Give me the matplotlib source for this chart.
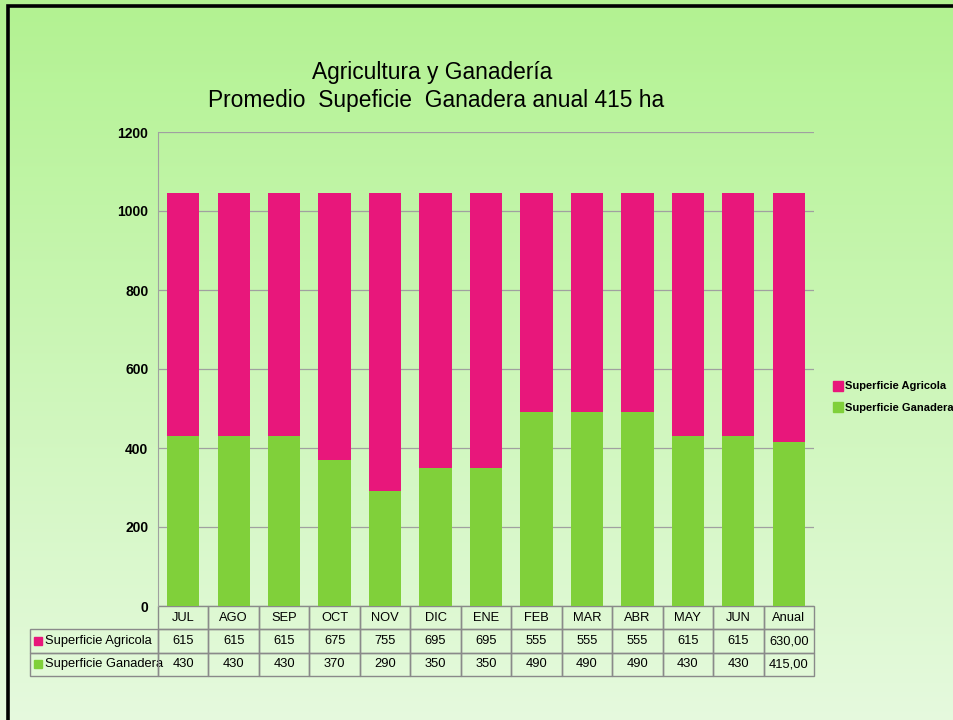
import numpy as np
import matplotlib
matplotlib.use("Agg")
import matplotlib.pyplot as plt
from matplotlib.patches import Rectangle
from matplotlib.lines import Line2D

months = ["JUL", "AGO", "SEP", "OCT", "NOV", "DIC", "ENE", "FEB", "MAR", "ABR",
          "MAY", "JUN", "Anual"]
agricola = [615, 615, 615, 675, 755, 695, 695, 555, 555, 555, 615, 615, 630]
ganadera = [430, 430, 430, 370, 290, 350, 350, 490, 490, 490, 430, 430, 415]
agricola_txt = ["615", "615", "615", "675", "755", "695", "695", "555", "555",
                "555", "615", "615", "630,00"]
ganadera_txt = ["430", "430", "430", "370", "290", "350", "350", "490", "490",
                "490", "430", "430", "415,00"]
yticks = [0, 200, 400, 600, 800, 1000, 1200]

PINK, GREEN, GRID = "#E8177B", "#80D03A", "#A0A0A0"
FONT = ["Liberation Sans", "DejaVu Sans"]
plt.rcParams["font.family"] = FONT

W, H = 954, 720
fig = plt.figure(figsize=(W / 100, H / 100), dpi=100)

# background gradient + frame
bg = fig.add_axes([0, 0, 1, 1], zorder=-10)
top = np.array([0.70, 0.95, 0.57])
bot = np.array([0.90, 0.98, 0.87])
t = np.linspace(0, 1, 256)[:, None]
grad = (top * (1 - t) + bot * t)[:, None, :]
bg.imshow(grad, aspect="auto", extent=[0, 1, 0, 1])
bg.add_patch(Rectangle((8.5 / W, -0.1), 1.2, 1 - 6 / H + 0.1, fill=False,
                       edgecolor="black", lw=2.6, transform=bg.transAxes))
bg.set_xlim(0, 1)
bg.set_ylim(0, 1)
bg.axis("off")

ax = fig.add_axes([158 / W, (H - 606) / H, 656 / W, 474 / H])
ax.patch.set_alpha(0)
x = np.arange(len(months))
ax.bar(x, ganadera, width=0.64, color=GREEN, zorder=3, label="Superficie Ganadera")
ax.bar(x, agricola, width=0.64, bottom=ganadera, color=PINK, zorder=3,
       label="Superficie Agricola")
ax.set_xlim(-0.5, len(months) - 0.5)
ax.set_ylim(0, 1200)
ax.set_yticks(yticks)
ax.set_yticklabels([str(v) for v in yticks], fontsize=10, fontweight="bold")
ax.set_xticks([])
ax.tick_params(axis="y", length=0, pad=7)
ax.grid(axis="y", color=GRID, lw=0.9, zorder=0)
for s in ["top", "right", "bottom"]:
    ax.spines[s].set_visible(False)
ax.spines["left"].set_color(GRID)

# data table under the plot (first column holds the row labels)
rl_w = 128 / 656
rows = [["Superficie Agricola"] + agricola_txt,
        ["Superficie Ganadera"] + ganadera_txt]
tb = ax.table(cellText=rows, colLabels=[""] + months,
              colWidths=[rl_w] + [1 / 13] * 13, cellLoc="center",
              bbox=[-rl_w, -70 / 474, 1 + rl_w, 70 / 474])
tb.auto_set_font_size(False)
tb.set_fontsize(9.3)
for (r, c), cell in tb.get_celld().items():
    cell.set_edgecolor("#8A8A8A")
    cell.set_linewidth(1)
    cell.set_facecolor("none")
    cell.get_text().set_fontfamily(FONT)
    if c == 0:
        cell.get_text().set_ha("left")
        cell.PAD = 0.115
        if r == 0:
            cell.visible_edges = ""

# colored squares next to the row labels
for i, col in enumerate([PINK, GREEN]):
    yc = -(23.3 * (i + 1.5)) / 474
    ax.add_patch(Rectangle((-124 / 656, yc - 4 / 474), 8 / 656, 8 / 474,
                           color=col, transform=ax.transAxes, clip_on=False))

# legend on the right
handles = [Line2D([], [], marker="s", ls="", markersize=6.5, color=PINK),
           Line2D([], [], marker="s", ls="", markersize=6.5, color=GREEN)]
fig.legend(handles, ["Superficie Agricola", "Superficie Ganadera"],
           loc="center left", bbox_to_anchor=(831 / W, 1 - 397 / H),
           frameon=False, handletextpad=0.25, handlelength=0.8,
           labelspacing=1.0, borderaxespad=0, borderpad=0.2,
           prop={"family": FONT, "size": 8, "weight": "bold"})

fig.text(432 / W, 1 - 73 / H, "Agricultura y Ganadería", ha="center",
         va="center", fontsize=16.4)
fig.text(436 / W, 1 - 100 / H, "Promedio  Supeficie  Ganadera anual 415 ha",
         ha="center", va="center", fontsize=16.4)

fig.savefig("out.png", dpi=100)
